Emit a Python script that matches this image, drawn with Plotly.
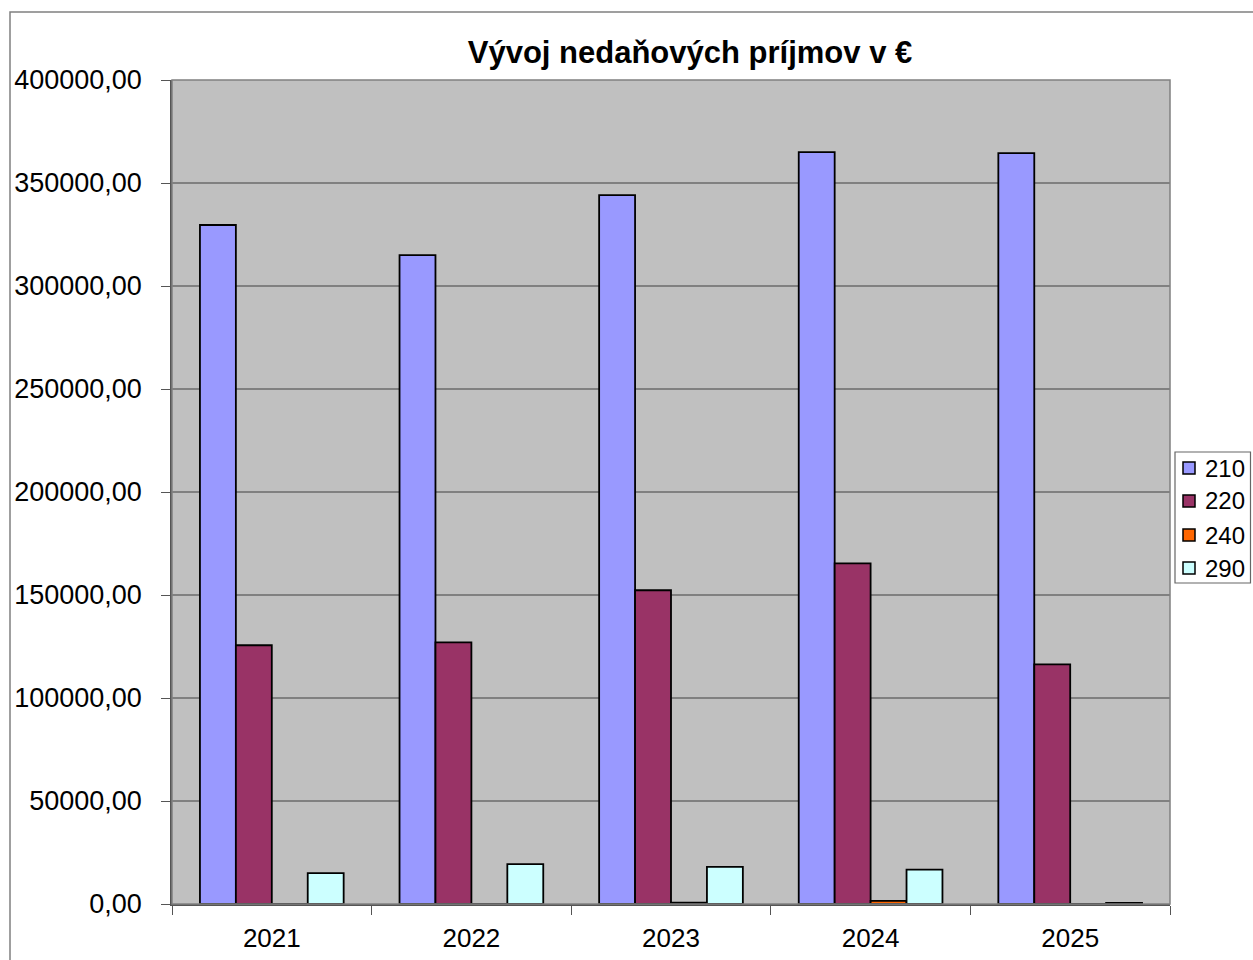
import plotly.graph_objects as go

years = ["2021", "2022", "2023", "2024", "2025"]
series_names = ["210", "220", "240", "290"]
v210 = [329600, 315000, 344100, 365000, 364500]
v220 = [125600, 127000, 152300, 165400, 116300]
v240 = [0, 0, 700, 1500, 0]
v290 = [15000, 19400, 18000, 16700, 500]
colors = ["#9999FF", "#993366", "#FF6600", "#CCFFFF"]
y_tickvals = [0, 50000, 100000, 150000, 200000, 250000, 300000, 350000, 400000]
y_ticktext = ["0,00", "50000,00", "100000,00", "150000,00", "200000,00",
              "250000,00", "300000,00", "350000,00", "400000,00"]
title_text = "Vývoj nedaňových príjmov v €"

FONT = "Liberation Sans, Arial, sans-serif"

fig = go.Figure()
for name, vals, col in zip(series_names, [v210, v220, v240, v290], colors):
    fig.add_trace(go.Bar(
        x=years, y=vals, name=name, showlegend=False,
        marker=dict(color=col, line=dict(color="black", width=1.8)),
    ))

W, H = 1253, 960
L, R, T, B = 172, 83, 80, 56
pw = W - L - R
ph = H - T - B

def px2paper_x(px):
    return (px - L) / pw

def px2paper_y(py):
    return (H - B - py) / ph

shapes = [
    dict(type="rect", xref="paper", yref="paper",
         x0=px2paper_x(10), x1=px2paper_x(1270), y0=px2paper_y(980), y1=px2paper_y(12),
         line=dict(color="#808080", width=1.5), fillcolor="rgba(0,0,0,0)", layer="below"),
    dict(type="rect", xref="paper", yref="paper", x0=0, x1=1, y0=0, y1=1,
         line=dict(color="#808080", width=1.5), fillcolor="rgba(0,0,0,0)", layer="above"),
    # legend box
    dict(type="rect", xref="paper", yref="paper",
         x0=px2paper_x(1175), x1=px2paper_x(1250.5), y0=px2paper_y(583), y1=px2paper_y(452),
         line=dict(color="#666666", width=1.2), fillcolor="white", layer="above"),
]
annotations = []
leg_y = [468, 501, 535, 568]
for name, col, cy in zip(series_names, colors, leg_y):
    shapes.append(dict(type="rect", xref="paper", yref="paper",
                       x0=px2paper_x(1183), x1=px2paper_x(1195),
                       y0=px2paper_y(cy + 6), y1=px2paper_y(cy - 6),
                       line=dict(color="black", width=1.5), fillcolor=col, layer="above"))
    annotations.append(dict(text=name, xref="paper", yref="paper",
                            x=px2paper_x(1203), y=px2paper_y(cy), xanchor="left", yanchor="middle",
                            showarrow=False, font=dict(size=24, family=FONT, color="black")))

fig.update_layout(
    width=W, height=H,
    margin=dict(l=L, r=R, t=T, b=B, autoexpand=False),
    paper_bgcolor="white",
    plot_bgcolor="#C0C0C0",
    barmode="group",
    bargap=0.28,
    bargroupgap=0,
    showlegend=False,
    font=dict(family=FONT, color="black"),
    title=dict(text="<b>" + title_text + "</b>", x=px2paper_x(690), xanchor="center",
               xref="paper", y=1 - 52 / H, yanchor="middle",
               font=dict(size=31, family=FONT, color="black")),
    xaxis=dict(
        showgrid=False, ticks="outside", tickson="boundaries", ticklen=9,
        tickcolor="#555555", showline=True, linecolor="#555555", linewidth=1.5,
        tickfont=dict(size=26, family=FONT, color="black"),
        ticklabelstandoff=10,
    ),
    yaxis=dict(
        range=[0, 400000], tickvals=y_tickvals, ticktext=y_ticktext,
        showgrid=True, gridcolor="#808080", gridwidth=1.5,
        ticks="outside", ticklen=9, tickcolor="#555555",
        showline=True, linecolor="#555555", linewidth=1.5,
        tickfont=dict(size=27, family=FONT, color="black"),
        ticklabelstandoff=14, zeroline=False,
    ),
    shapes=shapes,
    annotations=annotations,
)

fig.write_html("out.html", config={"displayModeBar": False})

with open("out.html", "r", encoding="utf-8") as f:
    html = f.read()
html = html.replace("<head>", "<head><style>html,body{margin:0;padding:0;overflow:hidden;}</style>", 1)
with open("out.html", "w", encoding="utf-8") as f:
    f.write(html)
